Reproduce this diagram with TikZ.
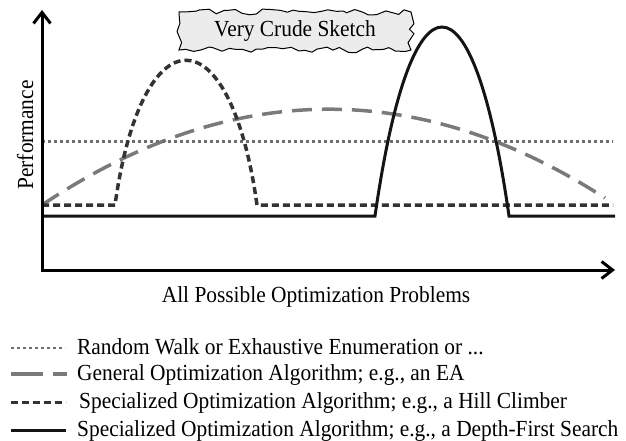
\documentclass[tikz,border=0pt]{standalone}
\usepackage{fontspec}
\setmainfont{Liberation Serif}[FakeStretch=0.93]
\usetikzlibrary{arrows.meta,decorations.pathmorphing}
\definecolor{walkgray}{HTML}{6E6E6E}
\definecolor{eagray}{HTML}{7A7A7A}
\definecolor{hillgray}{HTML}{333333}
\definecolor{dfsblack}{HTML}{141414}
\tikzset{
	axis/.style={line width=3pt, {Straight Barb[length=11pt,width=17pt]}-{Straight Barb[length=11pt,width=17pt]}},
	randomwalk/.style={walkgray, line width=3pt, dash pattern=on 3pt off 3pt},
	generalea/.style={eagray, line width=3.5pt, dash pattern=on 20pt off 10pt},
	hillclimb/.style={hillgray, line width=3.5pt, dash pattern=on 7pt off 4pt},
	depthfirst/.style={dfsblack, line width=3pt},
	torn/.style={draw=black, fill=gray!15, line width=1pt, decorate,
		decoration={random steps, segment length=7pt, amplitude=3pt},
		minimum width=232pt, minimum height=38pt},
	legendtext/.style={anchor=base west, inner sep=0pt}
}
\begin{document}
\pgfmathsetseed{7}
\begin{tikzpicture}[x=1pt, y=-1pt, font=\fontsize{23}{26}\selectfont]
	\useasboundingbox (0,0) rectangle (626,441);

	\coordinate (o) at (42,270);
	\coordinate (ytop) at (42,10);
	\coordinate (xend) at (615,270);

	\node[torn] (sketch) at (295,31) {Very Crude Sketch};
	\node[rotate=90, anchor=base] (perf) at (33,135) {Performance};
	\node[anchor=base] (probs) at (316,302) {All Possible Optimization Problems};

	% the four curves
	\draw[generalea] (42,205) .. controls (229,80) and (417,77) .. (605,198);
	\draw[randomwalk] (42,141) -- (613,141);
	\draw[hillclimb] (42,205) -- (115,205) .. controls (142,12) and (230,12) .. (257,205) -- (613,205);
	\draw[depthfirst] (42,216) -- (375,216) .. controls (411,-36) and (473,-36) .. (509,216) -- (615,216);

	\draw[axis] (ytop) -- (o) -- (xend);

	% legend
	\coordinate (l1a) at (11,348);
	\coordinate (l1b) at (65,348);
	\coordinate (l2a) at (11,374);
	\coordinate (l2b) at (67,374);
	\coordinate (l3a) at (11,402);
	\coordinate (l3b) at (66,402);
	\coordinate (l4a) at (11,430);
	\coordinate (l4b) at (66,430);
	\draw[randomwalk, line width=2.5pt] (l1a) -- (l1b);
	\draw[generalea, dash pattern=on 32pt off 10pt] (l2a) -- (l2b);
	\draw[hillclimb, line width=3pt] (l3a) -- (l3b);
	\draw[depthfirst] (l4a) -- (l4b);
	\node[legendtext] (t1) at (77,354) {Random Walk or Exhaustive Enumeration or ...};
	\node[legendtext] (t2) at (77,380) {General Optimization Algorithm; e.g., an EA};
	\node[legendtext] (t3) at (79,408) {Specialized Optimization Algorithm; e.g., a Hill Climber};
	\node[legendtext] (t4) at (77,436) {Specialized Optimization Algorithm; e.g., a Depth-First Search};
\end{tikzpicture}
\end{document}
